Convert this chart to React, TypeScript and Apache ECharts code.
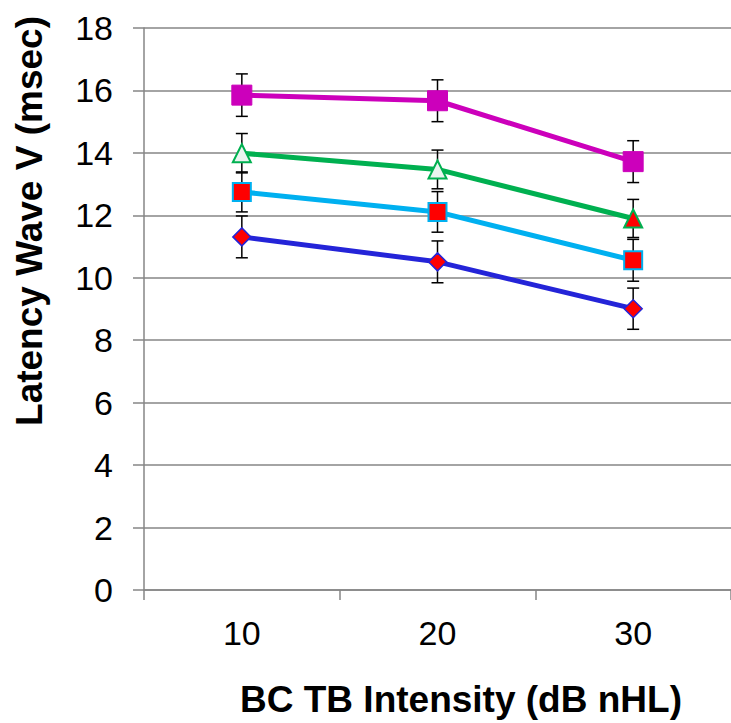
import React, { useEffect, useRef } from "react";
import * as echarts from "echarts";

const categories = ["10", "20", "30"];
const magentaValues = [15.85, 15.67, 13.72];
const magentaErrors = [0.68, 0.67, 0.67];
const greenValues = [13.99, 13.47, 11.9];
const greenErrors = [0.63, 0.62, 0.61];
const cyanValues = [12.75, 12.11, 10.56];
const cyanErrors = [0.64, 0.65, 0.67];
const blueValues = [11.31, 10.51, 9.01];
const blueErrors = [0.67, 0.67, 0.66];
const yTicks = { min: 0, max: 18, interval: 2 };

const MAGENTA = "#CC00BB";
const GREEN = "#00B050";
const CYAN = "#00B0F0";
const BLUE = "#2424D8";
const RED = "#FF0000";
const FONT = "Liberation Sans, Arial, sans-serif";

function errorSeries(values: number[], errors: number[]) {
  return {
    type: "custom",
    z: 1,
    silent: true,
    data: values.map((v, i) => [i, v, errors[i]]),
    renderItem: (params: any, api: any) => {
      const i = api.value(0);
      const v = api.value(1);
      const e = api.value(2);
      const top = api.coord([i, v + e]);
      const bot = api.coord([i, v - e]);
      const w = 6;
      const style = { stroke: "#000", lineWidth: 1.5 };
      return {
        type: "group",
        children: [
          { type: "line", shape: { x1: top[0], y1: top[1], x2: bot[0], y2: bot[1] }, style },
          { type: "line", shape: { x1: top[0] - w, y1: top[1], x2: top[0] + w, y2: top[1] }, style },
          { type: "line", shape: { x1: bot[0] - w, y1: bot[1], x2: bot[0] + w, y2: bot[1] }, style },
        ],
      };
    },
  };
}

export default function App() {
  const ref = useRef<HTMLDivElement>(null);
  useEffect(() => {
    if (!ref.current) return;
    const chart = echarts.init(ref.current, undefined, { renderer: "svg" });
    chart.setOption({
      animation: false,
      backgroundColor: "#fff",
      grid: { left: 144, top: 28, right: -5, bottom: 133, containLabel: false },
      xAxis: {
        type: "category",
        data: categories,
        boundaryGap: true,
        axisLine: { show: true, lineStyle: { color: "#868686", width: 1.5 } },
        axisTick: { show: true, length: 10, lineStyle: { color: "#868686", width: 1.5 } },
        axisLabel: { color: "#000", fontSize: 34, fontFamily: FONT, margin: 26 },
        splitLine: { show: false },
      },
      yAxis: {
        type: "value",
        min: yTicks.min,
        max: yTicks.max,
        interval: yTicks.interval,
        axisLine: { show: true, lineStyle: { color: "#868686", width: 1.5 } },
        axisTick: { show: true, length: 11, lineStyle: { color: "#868686", width: 1.5 } },
        axisLabel: { color: "#000", fontSize: 34, fontFamily: FONT, margin: 31 },
        splitLine: { show: true, lineStyle: { color: "#868686", width: 1.5 } },
      },
      graphic: [
        {
          type: "text",
          x: 29,
          y: 221,
          rotation: Math.PI / 2,
          style: {
            text: "Latency Wave V (msec)",
            font: `bold 37px ${FONT}`,
            fill: "#000",
            align: "center",
            verticalAlign: "middle",
          },
        },
        {
          type: "text",
          x: 461,
          y: 699,
          style: {
            text: "BC TB Intensity (dB nHL)",
            font: `bold 37px ${FONT}`,
            fill: "#000",
            align: "center",
            verticalAlign: "middle",
          },
        },
      ],
      series: [
        errorSeries(magentaValues, magentaErrors),
        errorSeries(greenValues, greenErrors),
        errorSeries(cyanValues, cyanErrors),
        errorSeries(blueValues, blueErrors),
        {
          type: "line",
          z: 3,
          data: blueValues,
          symbol: "diamond",
          symbolSize: 18,
          lineStyle: { color: BLUE, width: 5 },
          itemStyle: { color: RED, borderColor: BLUE, borderWidth: 1.5 },
        },
        {
          type: "line",
          z: 3,
          data: cyanValues,
          symbol: "rect",
          symbolSize: 18,
          lineStyle: { color: CYAN, width: 5 },
          itemStyle: { color: RED, borderColor: CYAN, borderWidth: 2 },
        },
        {
          type: "line",
          z: 3,
          data: greenValues.map((v, i) => ({
            value: v,
            itemStyle: { color: i === 2 ? RED : "#EAF4F0", borderColor: GREEN, borderWidth: 2 },
          })),
          symbol: "triangle",
          symbolSize: 18,
          lineStyle: { color: GREEN, width: 5 },
          itemStyle: { color: "#EAF4F0", borderColor: GREEN, borderWidth: 2 },
        },
        {
          type: "line",
          z: 3,
          data: magentaValues,
          symbol: "rect",
          symbolSize: 20,
          lineStyle: { color: MAGENTA, width: 5 },
          itemStyle: { color: MAGENTA, borderColor: MAGENTA, borderWidth: 1 },
        },
      ],
    });
    return () => chart.dispose();
  }, []);
  return <div ref={ref} style={{ width: 731, height: 723, position: "absolute", left: 0, top: 0 }} />;
}
